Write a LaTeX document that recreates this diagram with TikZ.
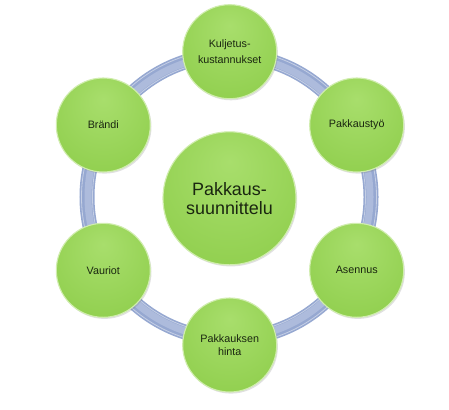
\documentclass[tikz,border=0pt]{standalone}
\usepackage{fontspec}
\setmainfont{Liberation Sans}
\usetikzlibrary{shadows}
\definecolor{glight}{HTML}{A8DE6C}
\definecolor{gmid}{HTML}{92D050}
\definecolor{gdark}{HTML}{88C743}
\definecolor{grim}{HTML}{D0EDAE}
\definecolor{txt}{HTML}{1A2610}
\definecolor{ringdark}{HTML}{96A8D1}
\definecolor{ringlight}{HTML}{ADBBDC}
\pgfdeclareradialshading{greenball}{\pgfpoint{0bp}{14bp}}{color(0bp)=(glight); color(32bp)=(gmid); color(50bp)=(gmid); color(60bp)=(gdark)}
\begin{document}
\begin{tikzpicture}[x=1bp,y=-1bp,
  bubble/.style={circle, minimum size=94bp, inner sep=0pt, shade, shading=greenball,
    draw=grim, line width=1.1bp, text=txt, align=center,
    font=\fontsize{10.8}{15.5}\selectfont,
    drop shadow={shadow xshift=1.2bp, shadow yshift=-1.6bp, opacity=0.2, fill=black!60}},
  hub/.style={bubble, minimum size=133bp, font=\fontsize{18}{19.5}\selectfont},
  ringouter/.style={draw=ringdark, line width=15bp},
  ringinner/.style={draw=ringlight, line width=7bp},
  ringedge/.style={draw=white, line width=0.8bp, opacity=0.45}]
\useasboundingbox (0,0) rectangle (449,409);
\fill[white] (0,0) rectangle (449,409);
% ring behind the circles
\coordinate (rc) at (229,197);
\draw[ringouter] (rc) circle[radius=142bp];
\draw[ringinner] (rc) circle[radius=141bp];
\draw[ringedge] (rc) circle[radius=147.5bp];
\draw[ringedge] (rc) circle[radius=136.5bp];
% nodes
\node[hub]    (C) at (229.5,198.3) {Pakkaus-\\suunnittelu};
\node[bubble] (K) at (229.7,51.7)  {Kuljetus-\\kustannukset};
\node[bubble] (P) at (356.7,125)   {Pakkaustyö};
\node[bubble] (A) at (356.7,270.3) {Asennus};
\node[bubble, font=\fontsize{10.8}{12.5}\selectfont] (H) at (229.7,345) {Pakkauksen\\hinta};
\node[bubble] (V) at (103.3,270.3) {Vauriot};
\node[bubble] (B) at (103.3,125)   {Brändi};
\end{tikzpicture}
\end{document}
